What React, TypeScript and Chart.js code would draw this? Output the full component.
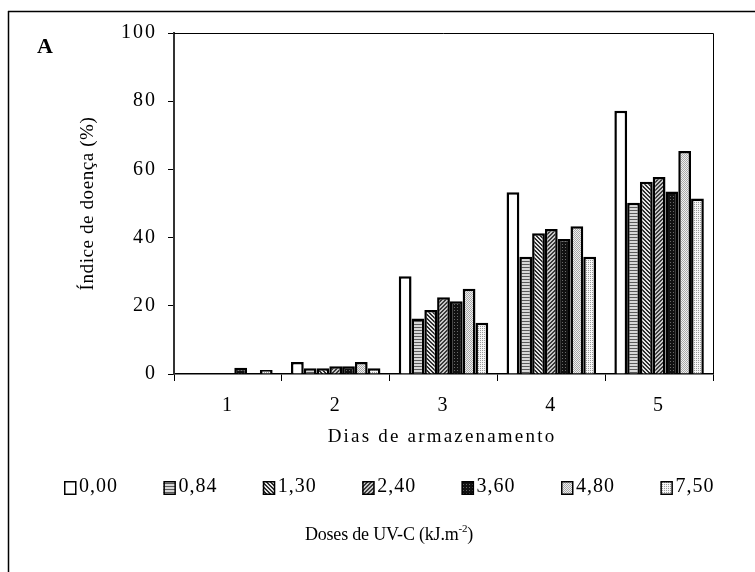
import React, { useEffect, useRef } from "react";
import { Chart, registerables } from "chart.js";

Chart.register(...registerables);

// Storage days (x categories)
const days = ["1", "2", "3", "4", "5"];

// UV-C doses (kJ.m-2), one series each
const doseLabels = ["0,00", "0,84", "1,30", "2,40", "3,60", "4,80", "7,50"];

// Disease index (%) per storage day
const dose000 = [0, 3.5, 28.7, 53.3, 77.2];
const dose084 = [0, 1.7, 16.3, 34.4, 50.2];
const dose130 = [0, 1.7, 18.8, 41.3, 56.4];
const dose240 = [0, 2.3, 22.5, 42.5, 57.8];
const dose360 = [1.8, 2.3, 21.3, 39.6, 53.5];
const dose480 = [0, 3.5, 25.0, 43.3, 65.4];
const dose750 = [1.2, 1.7, 15.0, 34.4, 51.5];

const yTicks = [0, 20, 40, 60, 80, 100];

const SERIF = "'Liberation Serif', 'Times New Roman', serif";

type PixelFn = (x: number, y: number) => string;

function makePattern(size: number, pixel: PixelFn): CanvasPattern | string {
  const c = document.createElement("canvas");
  c.width = size;
  c.height = size;
  const g = c.getContext("2d");
  if (!g) return "#ccc";
  for (let y = 0; y < size; y++) {
    for (let x = 0; x < size; x++) {
      g.fillStyle = pixel(x, y);
      g.fillRect(x, y, 1, 1);
    }
  }
  const p = g.createPattern(c, "repeat");
  return p || "#ccc";
}

function buildFills() {
  return [
    "#ffffff",
    // horizontal stripes
    makePattern(6, (_x, y) => (y % 3 === 0 ? "#5a5a5a" : "#d8d8d8")),
    // back-diagonal hatch
    makePattern(4, (x, y) => (((x - y + 8) % 4) < 2 ? "#2e2e2e" : "#e6e6e6")),
    // forward-diagonal hatch
    makePattern(4, (x, y) => (((x + y) % 4) < 2 ? "#3a3a3a" : "#c8c8c8")),
    // near-black with fine dots
    makePattern(3, (x, y) => (x === 1 && y === 1 ? "#6a6a6a" : "#111111")),
    // grey checker
    makePattern(2, (x, y) => ((x + y) % 2 === 0 ? "#a8a8a8" : "#efefef")),
    // light dotted
    makePattern(4, (x, y) => ((x % 2 === 0 && y % 2 === 0) ? "#9a9a9a" : "#f6f6f6")),
  ];
}

const decorPlugin = {
  id: "decor",
  beforeDraw(chart: any) {
    chart.ctx.letterSpacing = "2px";
  },
  afterDraw(chart: any) {
    const ctx: CanvasRenderingContext2D = chart.ctx;
    const area = chart.chartArea;
    ctx.save();
    ctx.letterSpacing = "0px";

    // outer frame (top and left edges)
    ctx.strokeStyle = "#000";
    ctx.lineWidth = 1.5;
    ctx.beginPath();
    ctx.moveTo(8, 11.5);
    ctx.lineTo(755, 11.5);
    ctx.moveTo(8.5, 11);
    ctx.lineTo(8.5, 572);
    ctx.stroke();

    // plot box: top and right edges
    ctx.strokeStyle = "#000";
    ctx.lineWidth = 1;
    ctx.beginPath();
    ctx.moveTo(area.left, Math.round(area.top) + 0.5);
    ctx.lineTo(area.right + 0.5, Math.round(area.top) + 0.5);
    ctx.lineTo(area.right + 0.5, area.bottom);
    ctx.stroke();

    ctx.fillStyle = "#000";

    // panel letter
    ctx.font = `bold 22px ${SERIF}`;
    ctx.textAlign = "left";
    ctx.textBaseline = "middle";
    ctx.fillText("A", 37, 47);

    // x-axis title
    ctx.font = `19px ${SERIF}`;
    ctx.letterSpacing = "2.2px";
    ctx.textAlign = "center";
    ctx.fillText("Dias de armazenamento", 442, 437);

    // y-axis title
    ctx.save();
    ctx.translate(88, (area.top + area.bottom) / 2);
    ctx.rotate(-Math.PI / 2);
    ctx.font = `19px ${SERIF}`;
    ctx.letterSpacing = "0.6px";
    ctx.fillText("\u00CDndice de doen\u00E7a (%)", 0, 0);
    ctx.restore();

    // legend
    const datasets = chart.data.datasets;
    ctx.font = `20px ${SERIF}`;
    ctx.letterSpacing = "1px";
    ctx.textAlign = "left";
    ctx.textBaseline = "middle";
    for (let i = 0; i < datasets.length; i++) {
      const bx = 64 + i * 99.4;
      const by = 481;
      ctx.fillStyle = datasets[i].backgroundColor;
      ctx.fillRect(bx, by, 12, 14);
      ctx.strokeStyle = "#000";
      ctx.lineWidth = 1.5;
      ctx.strokeRect(bx + 0.75, by + 0.75, 11, 12.5);
      ctx.fillStyle = "#000";
      ctx.fillText(datasets[i].label, bx + 15, by + 6);
    }

    // legend title with superscript
    ctx.letterSpacing = "-0.2px";
    ctx.font = `18px ${SERIF}`;
    const mainTxt = "Doses de UV-C (kJ.m";
    const supTxt = "-2";
    const endTxt = ")";
    const w1 = ctx.measureText(mainTxt).width;
    ctx.font = `11px ${SERIF}`;
    const w2 = ctx.measureText(supTxt).width;
    ctx.font = `18px ${SERIF}`;
    const w3 = ctx.measureText(endTxt).width;
    let x = 389 - (w1 + w2 + w3) / 2;
    const ty = 535;
    ctx.fillText(mainTxt, x, ty);
    x += w1;
    ctx.font = `11px ${SERIF}`;
    ctx.fillText(supTxt, x, ty - 6);
    x += w2;
    ctx.font = `18px ${SERIF}`;
    ctx.fillText(endTxt, x, ty);

    ctx.restore();
  },
};

export default function App() {
  const canvasRef = useRef<HTMLCanvasElement | null>(null);

  useEffect(() => {
    const canvas = canvasRef.current;
    if (!canvas) return;
    const fills = buildFills();
    const series = [dose000, dose084, dose130, dose240, dose360, dose480, dose750];

    const chart = new Chart(canvas, {
      type: "bar",
      data: {
        labels: days,
        datasets: series.map((values, i) => ({
          label: doseLabels[i],
          data: values,
          backgroundColor: fills[i] as any,
          borderColor: "#000",
          borderWidth: 2.5,
          borderSkipped: "bottom",
          categoryPercentage: 0.83,
          barPercentage: 1.0,
        })),
      },
      options: {
        responsive: false,
        animation: false,
        devicePixelRatio: 1,
        layout: { padding: { left: 0, right: 42, top: 33, bottom: 0 } },
        plugins: {
          legend: { display: false },
          tooltip: { enabled: false },
          title: { display: false },
        },
        scales: {
          x: {
            grid: {
              offset: true,
              drawOnChartArea: false,
              drawTicks: true,
              tickLength: 7,
              color: "#000",
              lineWidth: 1,
            },
            border: { display: true, color: "#000", width: 1.5 },
            ticks: {
              color: "#000",
              font: { family: SERIF, size: 20 },
              padding: 13,
            },
            afterFit: (s: any) => {
              s.height = 198;
            },
          },
          y: {
            min: 0,
            max: 100,
            afterBuildTicks: (s: any) => {
              s.ticks = yTicks.map((v) => ({ value: v }));
            },
            grid: {
              drawOnChartArea: false,
              drawTicks: true,
              tickLength: 6,
              color: "#000",
              lineWidth: 1,
            },
            border: { display: true, color: "#333", width: 2 },
            ticks: {
              color: "#000",
              font: { family: SERIF, size: 20 },
              padding: 11,
            },
            afterFit: (s: any) => {
              s.width = 174;
            },
          },
        },
      },
      plugins: [decorPlugin],
    });

    return () => chart.destroy();
  }, []);

  return (
    <div style={{ position: "fixed", left: 0, top: 0, width: 755, height: 572, background: "#fff" }}>
      <canvas ref={canvasRef} width={755} height={572} style={{ display: "block" }} />
    </div>
  );
}
